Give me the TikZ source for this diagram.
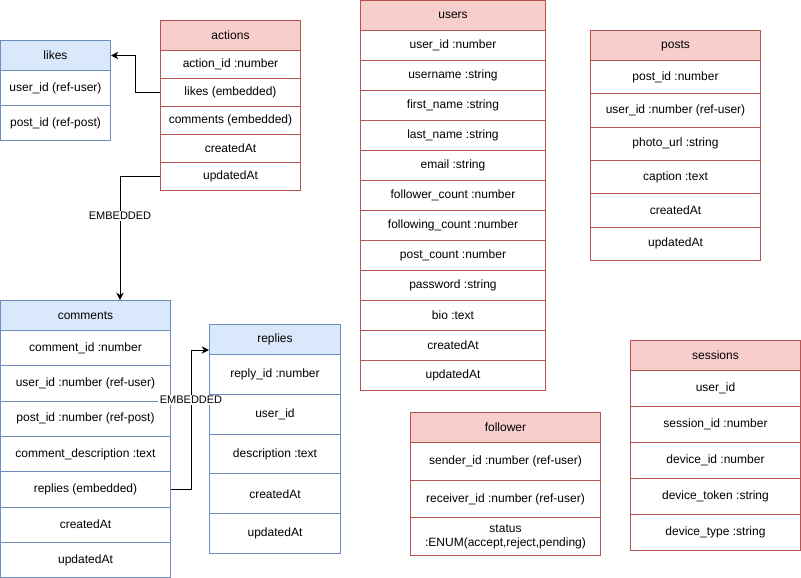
\documentclass[tikz,border=0pt]{standalone}
\usepackage{fontspec}
\setmainfont{Liberation Sans}
\usetikzlibrary{arrows.meta}

\definecolor{redfill}{HTML}{F8CECC}
\definecolor{redline}{HTML}{B85450}
\definecolor{bluefill}{HTML}{DAE8FC}
\definecolor{blueline}{HTML}{6C8EBF}

% one pixel of the layout grid
\newlength{\gridpx}
\setlength{\gridpx}{0.75pt}

\tikzset{
  cell/.style={draw, line width=\gridpx, anchor=north west, inner sep=1pt,
    align=center, font=\fontsize{9}{10.5}\selectfont, text=black},
  hdr red/.style={cell, draw=redline, fill=redfill},
  hdr blue/.style={cell, draw=blueline, fill=bluefill},
  row red/.style={cell, draw=redline, fill=white},
  row blue/.style={cell, draw=blueline, fill=white},
  conn/.style={draw=black, line width=\gridpx, -{Stealth[length=5.5pt,width=5.5pt,inset=1.8pt]}},
  edgelabel/.style={fill=white, inner sep=1pt, font=\fontsize{8.25}{9}\selectfont}
}

% entity table: name, left, top, width, row height, palette, title, rows
\newcommand{\erTable}[8]{%
  \node[hdr #6, minimum width=#4\gridpx, minimum height=30\gridpx] (#1) at (#2,#3) {#7};
  \foreach \r [count=\i] in {#8} {
    \node[row #6, minimum width=#4\gridpx, minimum height=#5\gridpx] (#1-\i)
      at (#2,{#3+30+(\i-1)*#5}) {\r};
  }%
}

\begin{document}
\begin{tikzpicture}[x=\gridpx, y=-\gridpx]
\useasboundingbox (0,0) rectangle (801,578);

\erTable{likes}{0}{40}{110}{35}{blue}{likes}
  {user\_id (ref-user), post\_id (ref-post)}

\erTable{actions}{160}{20}{140}{28}{red}{actions}
  {action\_id :number, likes (embedded), comments (embedded), createdAt, updatedAt}

\erTable{users}{360}{0}{185}{30}{red}{users}
  {user\_id :number, username :string, first\_name :string, last\_name :string,
   email :string, follower\_count :number, following\_count :number,
   post\_count :number, password :string, bio :text, createdAt, updatedAt}

\erTable{posts}{590}{30}{170}{33.33}{red}{posts}
  {post\_id :number, user\_id :number (ref-user), photo\_url :string,
   caption :text, createdAt, updatedAt}

\erTable{comments}{0}{300}{170}{35.3}{blue}{comments}
  {comment\_id :number, user\_id :number (ref-user), post\_id :number (ref-post),
   comment\_description :text, replies (embedded), createdAt, updatedAt}

\erTable{replies}{209}{324}{131}{39.8}{blue}{replies}
  {reply\_id :number, user\_id, description :text, createdAt, updatedAt}

\erTable{follower}{410}{412}{190}{37.7}{red}{follower}
  {sender\_id :number (ref-user), receiver\_id :number (ref-user),
   {status\\:ENUM(accept,reject,pending)}}

\erTable{sessions}{630}{340}{170}{36}{red}{sessions}
  {user\_id, session\_id :number, device\_id :number, device\_token :string,
   device\_type :string}

% embedding connectors
\coordinate (commentsIn) at (120,300);
\coordinate (repliesIn) at (209,350);

\draw[conn] (actions-2.west) -- ++(-25,0) |- (likes.east);
\draw[conn] (actions-5.west) -| (commentsIn)
  node[edgelabel, pos=0.66] {EMBEDDED};
\draw[conn] (comments-5.east) -- ++(20,0) |- (repliesIn)
  node[edgelabel, pos=0.32] {EMBEDDED};
\end{tikzpicture}
\end{document}
